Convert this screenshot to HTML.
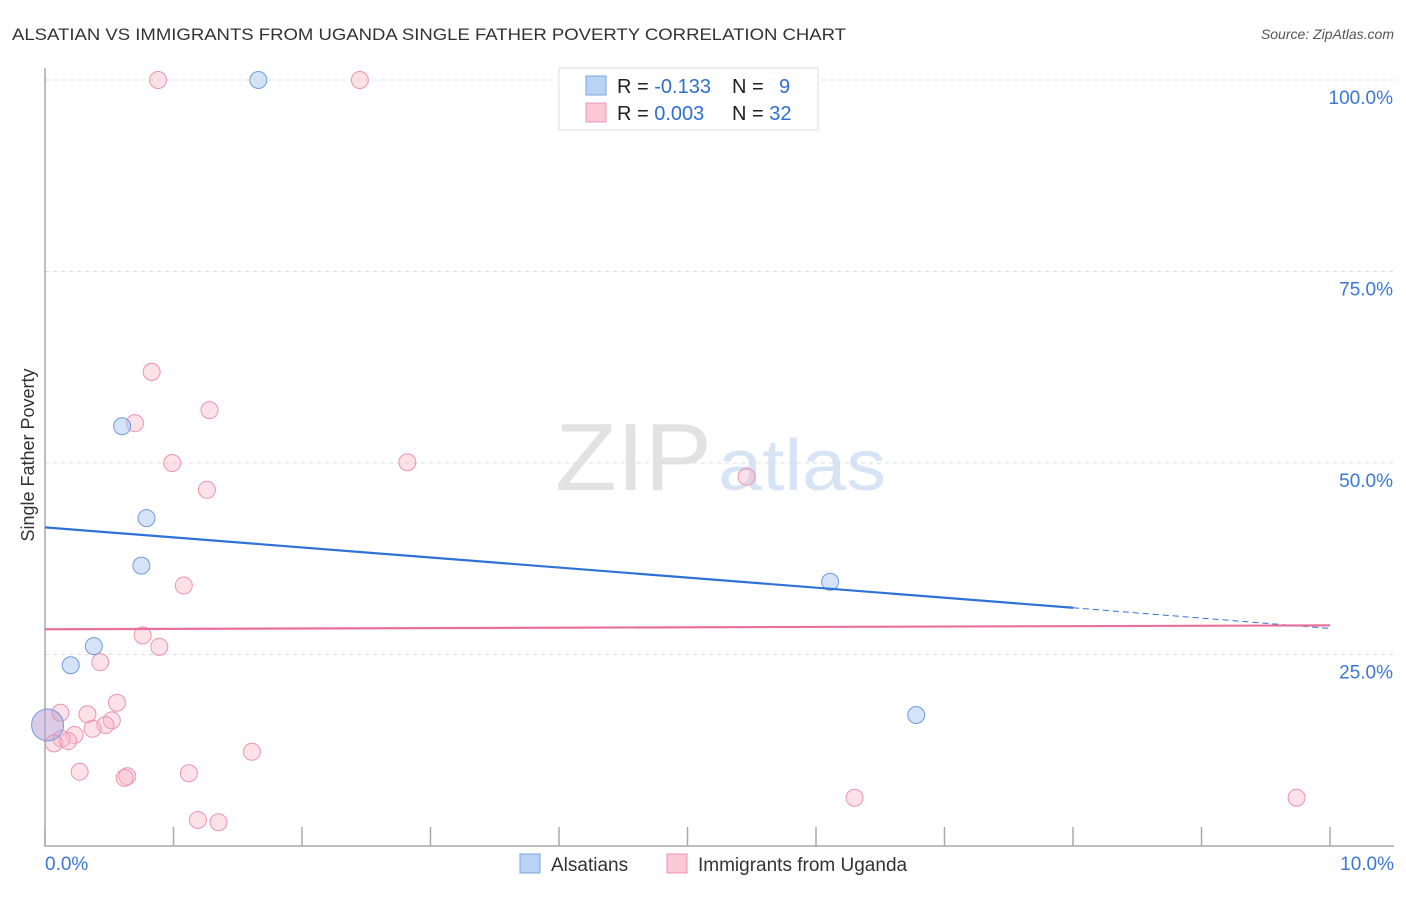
<!DOCTYPE html>
<html><head><meta charset="utf-8"><style>
body{margin:0;background:#fff;font-family:"Liberation Sans",sans-serif}
svg text{font-family:"Liberation Sans",sans-serif}
</style></head><body>
<svg id="c" width="1406" height="892">
<text x="12" y="40" font-size="17" fill="#333" textLength="834" lengthAdjust="spacingAndGlyphs">ALSATIAN VS IMMIGRANTS FROM UGANDA SINGLE FATHER POVERTY CORRELATION CHART</text>
<text x="1394" y="39" font-size="14" fill="#555" font-style="italic" text-anchor="end">Source: ZipAtlas.com</text>
<text x="555" y="490" font-size="96" fill="#e2e2e2" textLength="157" lengthAdjust="spacingAndGlyphs" font-family="Liberation Serif">ZIP</text>
<text x="718" y="490" font-size="72" fill="#d6e4f5" textLength="168" lengthAdjust="spacingAndGlyphs">atlas</text>
<text transform="translate(34,455) rotate(-90)" font-size="18" fill="#333" text-anchor="middle">Single Father Poverty</text>
<g id="grid"></g><g id="pts"></g><g id="lines"></g>
<g>
<rect x="559" y="68" width="259" height="62" fill="#fff" stroke="#ddd"/>
<rect x="586" y="76" width="20" height="19" fill="#b9d3f5" stroke="#7aa6e0"/>
<rect x="586" y="103" width="20" height="19" fill="#fbc8d7" stroke="#ec94b0"/>
<text x="617" y="93" font-size="20" fill="#222">R = <tspan fill="#2f6fd0">-0.133</tspan></text>
<text x="732" y="93" font-size="20" fill="#222">N = <tspan fill="#2f6fd0" x="779">9</tspan></text>
<text x="617" y="120" font-size="20" fill="#222">R = <tspan fill="#2f6fd0">0.003</tspan></text>
<text x="732" y="120" font-size="20" fill="#222">N = <tspan fill="#2f6fd0">32</tspan></text>
</g>
<g>
<rect x="520" y="854" width="20" height="19" fill="#b9d3f5" stroke="#7aa6e0"/>
<text x="551" y="871" font-size="19" fill="#333">Alsatians</text>
<rect x="667" y="854" width="20" height="19" fill="#fbc8d7" stroke="#ec94b0"/>
<text x="698" y="871" font-size="19" fill="#333">Immigrants from Uganda</text>
</g>
</svg>
<script>
const yTicks=[100,75,50,25];
const yTickLabels=["100.0%","75.0%","50.0%","25.0%"];
const xTicks=[0,1,2,3,4,5,6,7,8,9,10];
const blueX=[1.66,0.60,0.79,0.75,6.11,0.38,0.20,6.78,0.02];
const blueY=[100,54.8,42.8,36.6,34.5,26.1,23.6,17.1,15.8];
const pinkX=[0.88,2.45,0.83,1.28,0.70,0.99,2.82,5.46,1.26,1.08,0.76,0.89,0.43,0.56,0.12,0.33,0.52,0.47,0.37,0.23,0.13,0.07,0.18,1.61,0.27,1.12,0.64,0.62,6.30,9.74,1.19,1.35];
const pinkY=[100,100,61.9,56.9,55.2,50.0,50.1,48.2,46.5,34.0,27.5,26.0,24.0,18.7,17.4,17.2,16.4,15.8,15.3,14.5,14.0,13.4,13.7,12.3,9.7,9.5,9.1,8.9,6.3,6.3,3.4,3.1];
const blueTrend=[41.6,31.1,28.4]; // at x=0, 8, 10
const pinkTrend=[28.3,28.8];
const X=v=>45+v*128.5, Y=v=>846-v*7.66;
const NS="http://www.w3.org/2000/svg";
function mk(t,a,p){const e=document.createElementNS(NS,t);for(const k in a)e.setAttribute(k,a[k]);p.appendChild(e);return e;}
const g=document.getElementById('grid');
yTicks.forEach((t,i)=>{
 const l=mk('line',{x1:45,x2:1394,y1:Y(t),y2:Y(t),stroke:'#ddd','stroke-dasharray':'4,4'},g);
 
 
 const tx=mk('text',{x:1393,y:Y(t)+24,'font-size':19,fill:'#3a78d4','text-anchor':'end'},g);
 tx.textContent=yTickLabels[i];
 
 
});
const ax=mk('path',{d:`M45 68V846H1394`,fill:'none',stroke:'#aaa','stroke-width':1.5},g);


xTicks.forEach(t=>{
 const l=mk('line',{x1:X(t),x2:X(t),y1:827,y2:846,stroke:'#aaa','stroke-width':1.5},g);
 
 
});
[[0,"0.0%",'start',45],[10,"10.0%",'end',1394]].forEach(a=>{
 const tx=mk('text',{x:a[3],y:870,'font-size':19,fill:'#3a78d4','text-anchor':a[2]},g);
 tx.textContent=a[1];
 
 
});
const p=document.getElementById('pts');
pinkX.forEach((x,i)=>{
 const c=mk('circle',{cx:X(x),cy:Y(pinkY[i]),r:8.5,fill:'rgba(248,180,200,0.4)',stroke:'#ec94b0','stroke-width':1},p);
 
 
});
blueX.forEach((x,i)=>{
 const c=mk('circle',{cx:X(x),cy:Y(blueY[i]),r:i==8?16:8.5,fill:i==8?'rgba(190,160,210,0.55)':'rgba(170,200,240,0.5)',stroke:'#6f9be0','stroke-width':1},p);
 
 
});
const L=document.getElementById('lines');
let b1=mk('line',{x1:X(0),y1:Y(blueTrend[0]),x2:X(8),y2:Y(blueTrend[1]),stroke:'#2f72d6','stroke-width':2.2},L);


let b2=mk('line',{x1:X(8),y1:Y(blueTrend[1]),x2:X(10),y2:Y(blueTrend[2]),stroke:'#2f72d6','stroke-width':1,'stroke-dasharray':'6,4'},L);


let pl=mk('line',{x1:X(0),y1:Y(pinkTrend[0]),x2:X(10),y2:Y(pinkTrend[1]),stroke:'#e8709a','stroke-width':2.2},L);


</script>
</body></html>
